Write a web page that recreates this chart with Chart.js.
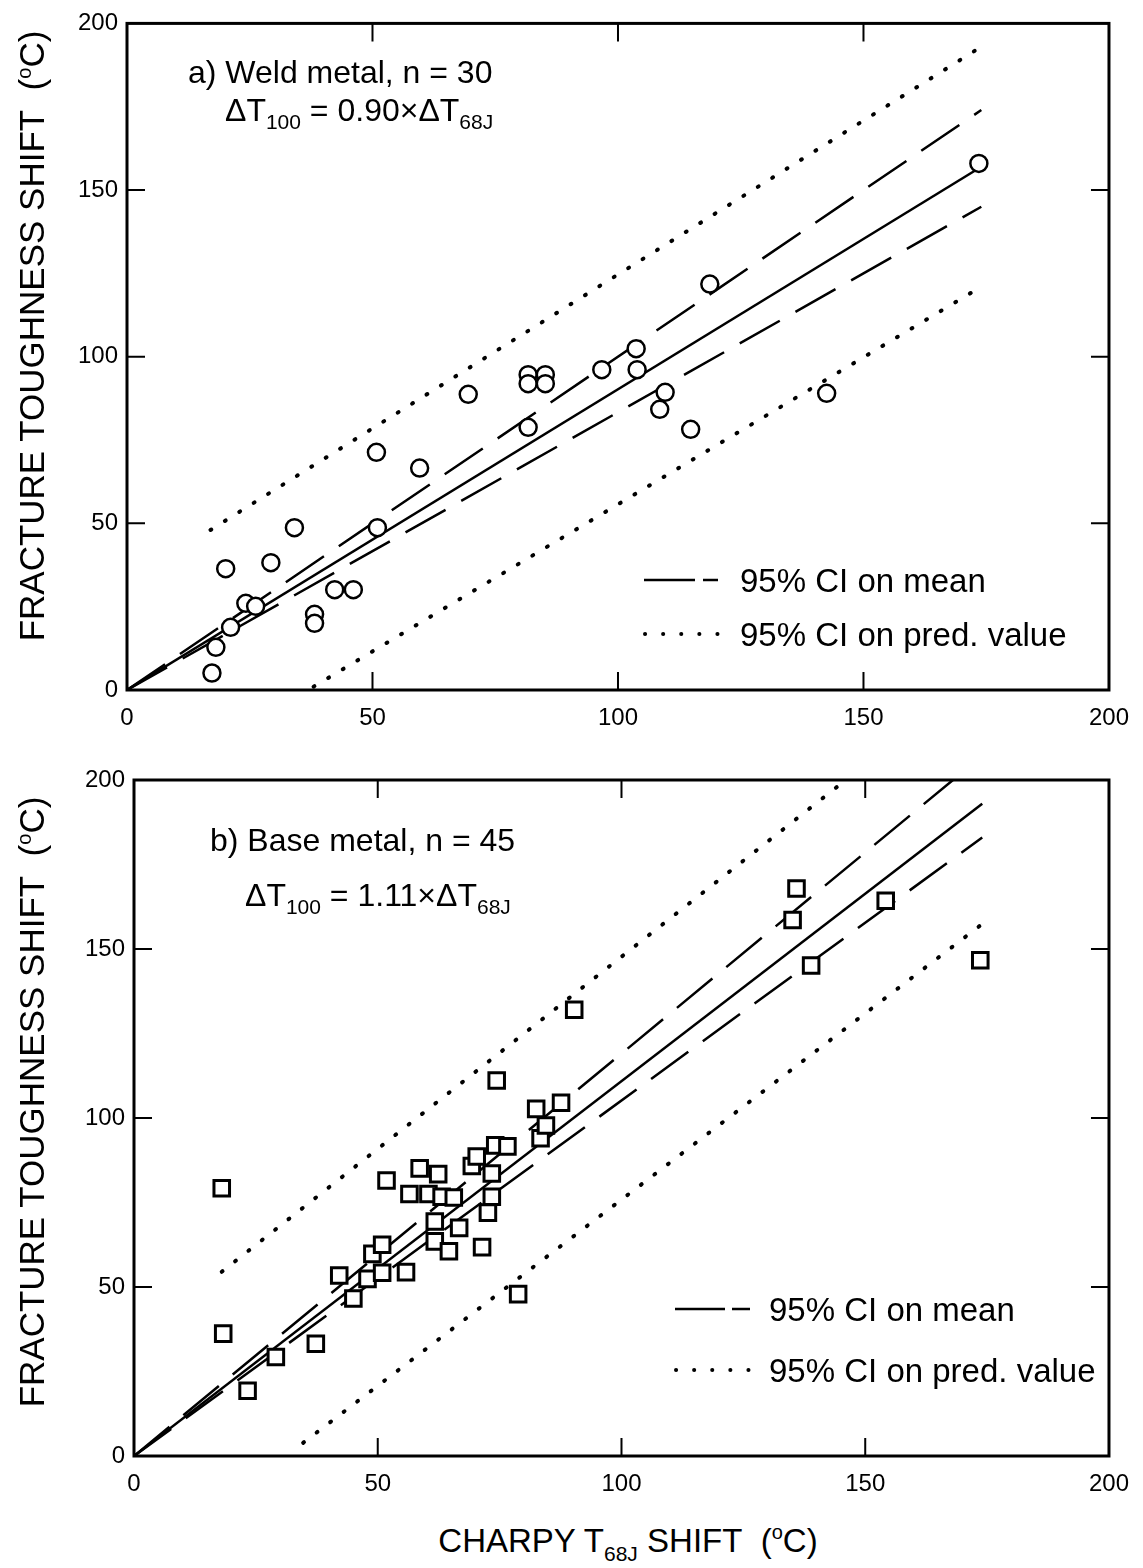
<!DOCTYPE html>
<html>
<head>
<meta charset="utf-8">
<script src="https://cdn.jsdelivr.net/npm/chart.js@4.4.1/dist/chart.umd.min.js"></script>
<style>
body{margin:0;background:#fff;}
#page{position:relative;width:1143px;height:1568px;background:#fff;overflow:hidden;
font-family:"Liberation Sans",Arial,sans-serif;color:#000;}
canvas{position:absolute;left:0;}
.txt{position:absolute;white-space:nowrap;line-height:1;z-index:2;}
.note{font-size:32px;}
.note sub{font-size:21px;vertical-align:-8px;line-height:0;}
.leg{font-size:33px;}
.ytitle{font-size:35px;transform:translate(-50%,-50%) rotate(-90deg);}
.xtitle{font-size:33px;transform:translate(-50%,-50%);}
.xtitle sub{font-size:21px;vertical-align:-9px;line-height:0;}
sup{font-size:20px;vertical-align:13px;line-height:0;}
svg{position:absolute;z-index:2;}
</style>
</head>
<body>
<div id="page">
<canvas id="weldChart" width="1143" height="745" style="top:0"></canvas>
<canvas id="baseChart" width="1143" height="760" style="top:745px"></canvas>

<div class="txt ytitle" style="left:31px;top:336px">FRACTURE TOUGHNESS SHIFT&nbsp; (<sup>o</sup>C)</div>
<div class="txt ytitle" style="left:31px;top:1102px">FRACTURE TOUGHNESS SHIFT&nbsp; (<sup>o</sup>C)</div>
<div class="txt xtitle" style="left:628px;top:1540px">CHARPY T<sub>68J</sub> SHIFT&nbsp; (<sup>o</sup>C)</div>

<div class="txt note" style="left:188px;top:56px">a) Weld metal, n = 30</div>
<div class="txt note" style="left:225px;top:94px">&Delta;T<sub>100</sub> = 0.90&times;&Delta;T<sub>68J</sub></div>
<div class="txt note" style="left:210px;top:824px">b) Base metal, n = 45</div>
<div class="txt note" style="left:245px;top:879px">&Delta;T<sub>100</sub> = 1.11&times;&Delta;T<sub>68J</sub></div>

<!-- legend a -->
<svg style="left:640px;top:570px" width="90" height="20"><line x1="4" y1="10" x2="55" y2="10" stroke="#000" stroke-width="2.5"/><line x1="63" y1="10" x2="78" y2="10" stroke="#000" stroke-width="2.5"/></svg>
<div class="txt leg" style="left:740px;top:564px">95% CI on mean</div>
<svg style="left:640px;top:624px" width="90" height="20"><line x1="5" y1="10" x2="80" y2="10" stroke="#000" stroke-width="4" stroke-linecap="round" stroke-dasharray="0.1 18"/></svg>
<div class="txt leg" style="left:740px;top:618px">95% CI on pred. value</div>

<!-- legend b -->
<svg style="left:671px;top:1299px" width="90" height="20"><line x1="4" y1="10" x2="54" y2="10" stroke="#000" stroke-width="2.5"/><line x1="61" y1="10" x2="79" y2="10" stroke="#000" stroke-width="2.5"/></svg>
<div class="txt leg" style="left:769px;top:1293px">95% CI on mean</div>
<svg style="left:671px;top:1360px" width="90" height="20"><line x1="5" y1="10" x2="80" y2="10" stroke="#000" stroke-width="4" stroke-linecap="round" stroke-dasharray="0.1 18"/></svg>
<div class="txt leg" style="left:769px;top:1354px">95% CI on pred. value</div>
</div>

<script>
Chart.defaults.font.family = '"Liberation Sans", Arial, sans-serif';
Chart.defaults.font.size = 24;
Chart.defaults.color = '#000';

let axisTicks = [0, 50, 100, 150, 200];

/* a) weld metal */
let weldX = [17.3,18.1,21.1,20.1,24.2,26.2,29.3,34.1,38.2,38.2,42.3,46.1,51.0,50.8,59.6,69.5,81.7,81.7,81.7,85.2,85.2,96.7,103.7,103.9,109.6,108.5,114.8,118.7,142.5,173.5];
let weldY = [5.1,12.8,18.8,36.4,26.0,25.1,38.2,48.7,22.7,20.0,30.1,30.1,48.7,71.3,66.6,88.7,78.8,94.6,91.9,94.6,91.9,96.1,102.4,96.1,89.3,84.2,78.2,121.8,89.0,158.0];
let weldFitX = [0, 174], weldFitY = [0, 157];
let weldMeanX = [0, 174], weldMeanUpY = [0, 174], weldMeanLoY = [0, 145];
let weldPredUpX = [17, 174], weldPredUpY = [48, 193];
let weldPredLoX = [38, 174], weldPredLoY = [1, 121];

/* b) base metal */
let baseX = [18.0,18.3,23.3,29.1,37.3,42.1,45.0,47.9,48.9,50.9,50.9,51.8,55.8,56.5,58.6,60.4,62.4,61.7,61.7,63.1,65.6,64.6,66.7,69.3,70.3,71.4,72.6,73.4,73.4,74.1,74.4,76.6,78.8,82.5,83.4,84.5,87.6,90.3,135.9,135.1,154.2,138.9,173.6];
let baseY = [79.2,36.2,19.3,29.3,33.2,53.4,46.6,52.4,59.8,62.5,54.2,81.5,54.4,77.5,85.1,77.5,83.4,69.4,63.5,76.7,76.5,60.6,67.5,85.8,88.6,61.8,72.0,76.7,83.6,91.9,111.1,91.6,47.9,102.7,94.0,97.8,104.5,132.0,167.9,158.6,164.3,145.1,146.7];
let baseFitX = [0, 174], baseFitY = [0, 193];
let baseMeanUpX = [0, 168], baseMeanUpY = [0, 200];
let baseMeanLoX = [0, 174], baseMeanLoY = [0, 183];
let basePredUpX = [18, 146], basePredUpY = [54.5, 200];
let basePredLoX = [34.7, 174], basePredLoY = [3.9, 157.4];

function pts(xs, ys){
return xs.map((x,i)=>({x:x, y:ys[i]}));
}

function lineSet(xs, ys, kind){
let ds = {data:pts(xs,ys), showLine:true, pointRadius:0, borderColor:'#000',
  borderWidth:2.5, fill:false, order:2};
if(kind==='dash') ds.borderDash = [46,18];
if(kind==='dot'){ ds.borderDash = [1,16]; ds.borderWidth = 4; ds.borderCapStyle = 'round'; }
return ds;
}

/* frame + inward ticks on all four sides */
const frame = {
id:'frame',
afterDatasetsDraw(chart){
let {ctx, chartArea:a, scales:{x, y}} = chart;
ctx.save();
ctx.strokeStyle = '#000';
ctx.lineWidth = 3;
ctx.strokeRect(a.left, a.top, a.right-a.left, a.bottom-a.top);
ctx.lineWidth = 2;
ctx.beginPath();
axisTicks.slice(1,-1).forEach(v=>{
let px = x.getPixelForValue(v), py = y.getPixelForValue(v);
ctx.moveTo(px, a.bottom); ctx.lineTo(px, a.bottom-18);
ctx.moveTo(px, a.top); ctx.lineTo(px, a.top+18);
ctx.moveTo(a.left, py); ctx.lineTo(a.left+18, py);
ctx.moveTo(a.right, py); ctx.lineTo(a.right-18, py);
});
ctx.stroke();
ctx.restore();
}
};

function makeChart(id, points, marker, lines, box){
let markerSet = {data:points, showLine:false, pointStyle:marker.style,
  pointRadius:marker.r, pointBorderWidth:marker.w, pointBackgroundColor:'#fff',
  pointBorderColor:'#000', order:0};
return new Chart(document.getElementById(id), {
type:'scatter',
data:{datasets:[markerSet].concat(lines)},
options:{
responsive:false, animation:false,
layout:{padding:{left:0, top:box.top, right:box.right, bottom:0}},
plugins:{legend:{display:false}, tooltip:{enabled:false}},
scales:{
x:{type:'linear', min:0, max:200,
  afterBuildTicks:s=>{ s.ticks = axisTicks.map(v=>({value:v})); },
  afterFit:s=>{ s.height = box.xh; },
  grid:{display:false, drawTicks:false}, border:{display:false},
  ticks:{padding:14, maxRotation:0, font:{size:24}}},
y:{type:'linear', min:0, max:200,
  afterBuildTicks:s=>{ s.ticks = axisTicks.map(v=>({value:v})); },
  afterFit:s=>{ s.width = box.yw; },
  grid:{display:false, drawTicks:false}, border:{display:false},
  ticks:{padding:9, font:{size:24}}}
}
},
plugins:[frame]
});
}

makeChart('weldChart', pts(weldX, weldY), {style:'circle', r:8.5, w:2.5}, [
lineSet(weldFitX, weldFitY, 'solid'),
lineSet(weldMeanX, weldMeanUpY, 'dash'),
lineSet(weldMeanX, weldMeanLoY, 'dash'),
lineSet(weldPredUpX, weldPredUpY, 'dot'),
lineSet(weldPredLoX, weldPredLoY, 'dot')
], {top:15, right:30, xh:55, yw:127});

makeChart('baseChart', pts(baseX, baseY), {style:'rect', r:11, w:3}, [
lineSet(baseFitX, baseFitY, 'solid'),
lineSet(baseMeanUpX, baseMeanUpY, 'dash'),
lineSet(baseMeanLoX, baseMeanLoY, 'dash'),
lineSet(basePredUpX, basePredUpY, 'dot'),
lineSet(basePredLoX, basePredLoY, 'dot')
], {top:35, right:25, xh:49, yw:134});
</script>
</body>
</html>
